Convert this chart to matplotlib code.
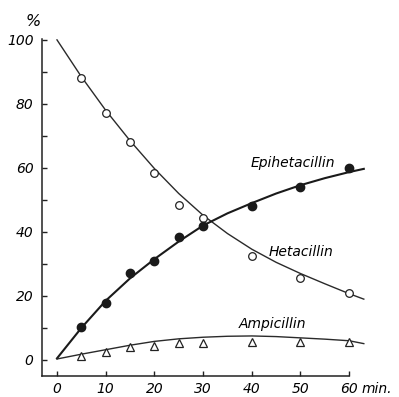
import numpy as np
import matplotlib
matplotlib.use('Agg')
import matplotlib.pyplot as plt

# measured points (minutes, %)
t_pts = [5, 10, 15, 20, 25, 30, 40, 50, 60]
hetacillin = [88, 77, 68, 58.5, 48.5, 44.5, 32.5, 25.5, 21]
epihetacillin = [10.4, 17.7, 27.3, 31, 38.4, 42, 48, 54, 60]
ampicillin = [1.2, 2.5, 4, 4.4, 5.3, 5.3, 5.6, 5.6, 5.6]

# hand-drawn fitted curves
t_cur = [0, 5, 10, 15, 20, 25, 30, 35, 40, 45, 50, 55, 60, 63]
het_cur = [100, 88.5, 78, 68.5, 59.8, 52, 45.2, 39.5, 34.6, 30.5, 27, 23.8, 20.7, 19]
epi_cur = [0.5, 10, 18.5, 25.5, 31.5, 37, 42, 45.8, 49, 52, 54.6, 56.8, 58.7, 59.7]
amp_cur = [0.3, 1.8, 3.2, 4.6, 5.8, 6.6, 7.1, 7.4, 7.5, 7.3, 6.9, 6.5, 6.0, 5.1]

x_ticks = [0, 10, 20, 30, 40, 50, 60]
y_ticks = [0, 20, 40, 60, 80, 100]

fig = plt.figure(figsize=(3.99, 3.97), dpi=100)
ax = fig.add_axes([0.105, 0.053, 0.819, 0.849])
fnt = dict(family='DejaVu Sans', style='italic', size=10)

ax.plot(t_cur, het_cur, color='#2a2a2a', lw=1.0)
ax.plot(t_cur, epi_cur, color='#1a1a1a', lw=1.5)
ax.plot(t_cur, amp_cur, color='#2a2a2a', lw=1.0)
ax.plot(t_pts, hetacillin, 'o', ms=5.5, mfc='white', mec='#222', mew=0.9)
ax.plot(t_pts, epihetacillin, 'o', ms=6, mfc='#1a1a1a', mec='#1a1a1a')
ax.plot(t_pts, ampicillin, '^', ms=5.5, mfc='white', mec='#222', mew=0.9)

ax.set_xlim(-3.1, 64)
ax.set_ylim(-5, 100.3)
for s in ['top', 'right']:
    ax.spines[s].set_visible(False)
ax.spines['bottom'].set_bounds(-3.1, 60)
for s in ['left', 'bottom']:
    ax.spines[s].set_linewidth(1.1)
    ax.spines[s].set_color('#222')

ax.set_xticks(x_ticks)
ax.set_yticks(y_ticks)
ax.set_yticks([10, 30, 50, 70, 90], minor=True)
ax.set_xticklabels([str(v) for v in x_ticks], **fnt)
ax.set_yticklabels([str(v) for v in y_ticks], **fnt)
ax.tick_params(axis='both', which='both', direction='in', length=3.5, width=1, color='#222')
ax.tick_params(axis='x', pad=4)
ax.tick_params(axis='y', pad=6)

fig.text(33 / 399, 1 - 22 / 397, '%', ha='center', va='center',
         family='DejaVu Sans', style='italic', size=11.5)
fig.text(293 / 399, 1 - 163 / 397, 'Epihetacillin', ha='center', va='center', **fnt)
fig.text(301 / 399, 1 - 252 / 397, 'Hetacillin', ha='center', va='center', **fnt)
fig.text(272 / 399, 1 - 324 / 397, 'Ampicillin', ha='center', va='center', **fnt)
fig.text(362 / 399, 1 - 389 / 397, 'min.', ha='left', va='center', **fnt)

fig.savefig('out.png', dpi=100)
